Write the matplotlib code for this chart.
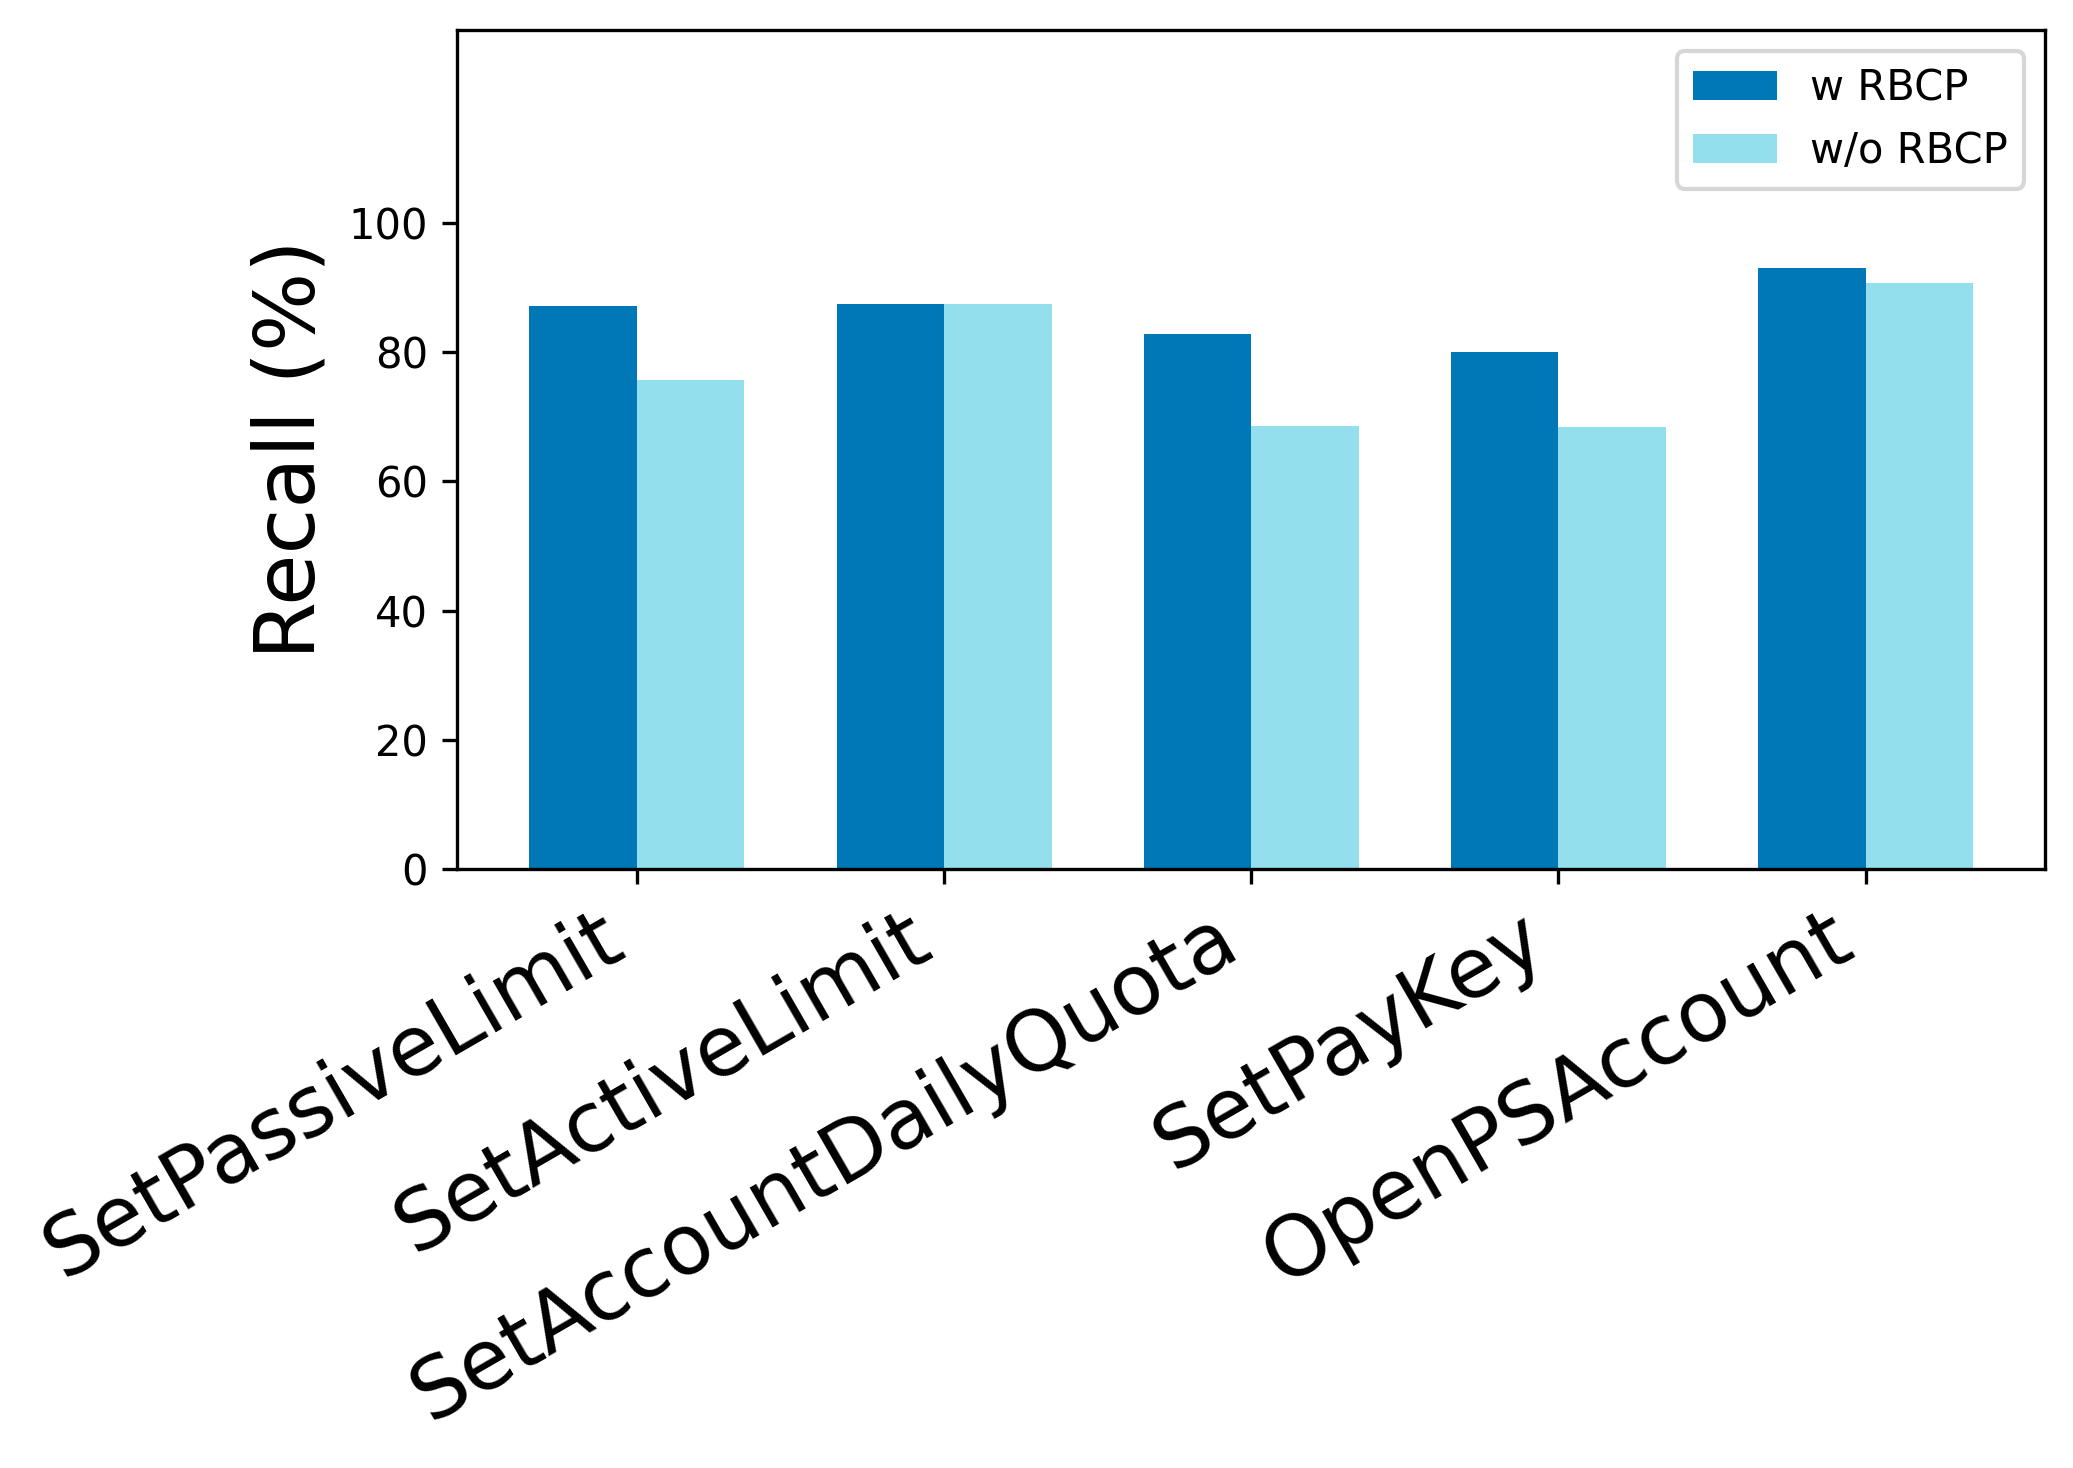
import numpy as np
import matplotlib.pyplot as plt

# data
apis = ["SetPassiveLimit", "SetActiveLimit", "SetAccountDailyQuota",
        "SetPayKey", "OpenPSAccount"]
recall_w = [87.2, 87.5, 82.8, 80.0, 93.1]
recall_wo = [75.7, 87.5, 68.6, 68.4, 90.8]
yticks = [0, 20, 40, 60, 80, 100]

color_w = "#0077B6"
color_wo = "#94DFEE"

fig = plt.figure(figsize=(2073 / 300, 1468 / 300), dpi=300)
ax = fig.add_axes([0.2206, 0.4083, 0.766, 0.5714])

x = np.arange(len(apis))
width = 0.35

ax.bar(x - width / 2, recall_w, width, color=color_w, label="w RBCP")
ax.bar(x + width / 2, recall_wo, width, color=color_wo, label="w/o RBCP")

ax.set_ylim(0, 130)
ax.set_yticks(yticks)
ax.set_ylabel("Recall (%)", fontsize=20)

ax.set_xticks(x)
ax.set_xticklabels(apis, fontsize=20, rotation=30, ha="right")

ax.legend(loc="upper right")

fig.savefig("out.png", dpi=300)
